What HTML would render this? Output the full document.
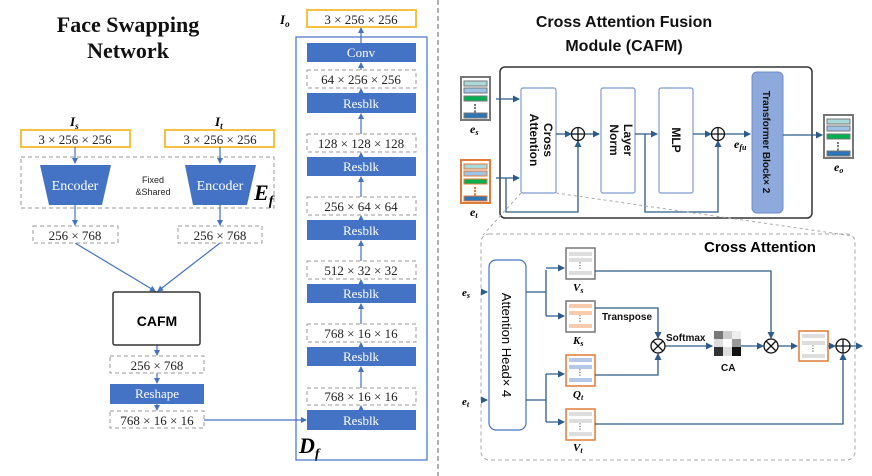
<!DOCTYPE html>
<html><head><meta charset="utf-8"><style>
html,body{margin:0;padding:0;background:#fff}
svg{display:block}
.ser{font-family:"Liberation Serif",serif}
.san{font-family:"Liberation Sans","DejaVu Sans",sans-serif}
</style></head><body>
<svg width="872" height="476" viewBox="0 0 872 476" xmlns="http://www.w3.org/2000/svg">
<defs>
<marker id="a" markerWidth="6" markerHeight="6" refX="5" refY="3" orient="auto" markerUnits="userSpaceOnUse"><path d="M0,0 L6,3 L0,6 z" fill="#4472C4"/></marker>
<marker id="b" markerWidth="7" markerHeight="7" refX="6" refY="3.5" orient="auto" markerUnits="userSpaceOnUse"><path d="M0,0 L7,3.5 L0,7 z" fill="#2E5C8A"/></marker>
<g id="emb"><rect x="0" y="0" width="29" height="43" fill="#fff" stroke-width="2"/><rect x="3" y="4" width="23" height="5" fill="#A8DADC"/><rect x="3" y="11" width="23" height="5" fill="#9DC3E6"/><rect x="3" y="19" width="23" height="5" fill="#00B050"/><text x="14" y="34" font-size="9" text-anchor="middle" class="san">⋮</text><rect x="3" y="36" width="23" height="5" fill="#2E75B6"/></g>
</defs>
<g class="ser" font-weight="bold" font-size="22" text-anchor="middle" fill="#111">
<text x="128" y="32">Face Swapping</text><text x="128" y="58">Network</text></g>
<g class="ser" font-style="italic" font-weight="bold" font-size="13">
<text x="70" y="126">I<tspan font-size="9" dy="3">s</tspan></text>
<text x="215" y="126">I<tspan font-size="9" dy="3">t</tspan></text>
<text x="280" y="24">I<tspan font-size="9" dy="3">o</tspan></text>
<text x="254" y="200" font-size="22">E<tspan font-size="14" dy="5">f</tspan></text>
<text x="299" y="453" font-size="22">D<tspan font-size="14" dy="5">f</tspan></text>
</g>
<g class="ser" font-size="13" text-anchor="middle" fill="#222">
<rect x="21" y="130" width="109" height="17" fill="#fff" stroke="#F5C242" stroke-width="2"/><text x="75" y="144">3 × 256 × 256</text>
<rect x="165" y="130" width="109" height="17" fill="#fff" stroke="#F5C242" stroke-width="2"/><text x="220" y="144">3 × 256 × 256</text>
<rect x="307" y="10" width="109" height="17" fill="#fff" stroke="#F5C242" stroke-width="2"/><text x="361" y="24">3 × 256 × 256</text>
</g>
<rect x="21" y="157" width="253" height="51" fill="none" stroke="#999" stroke-dasharray="4,3"/>
<polygon points="40,165 111,165 102,205 49,205" fill="#4472C4"/>
<polygon points="185,165 256,165 247,205 193,205" fill="#4472C4"/>
<g class="ser" font-size="14" fill="#fff" text-anchor="middle"><text x="75" y="190">Encoder</text><text x="220" y="190">Encoder</text></g>
<g class="san" font-size="9" text-anchor="middle" fill="#222"><text x="153" y="183">Fixed</text><text x="153" y="195">&amp;Shared</text></g>
<g stroke="#4472C4" stroke-width="1.2" fill="none">
<line x1="75" y1="147" x2="75" y2="163" marker-end="url(#a)"/>
<line x1="220" y1="147" x2="220" y2="163" marker-end="url(#a)"/>
<line x1="75" y1="205" x2="75" y2="225" marker-end="url(#a)"/>
<line x1="220" y1="205" x2="220" y2="225" marker-end="url(#a)"/>
<line x1="75" y1="243" x2="155" y2="291" marker-end="url(#a)"/>
<line x1="220" y1="243" x2="158" y2="291" marker-end="url(#a)"/>
<line x1="157" y1="345" x2="157" y2="355" marker-end="url(#a)"/>
<line x1="157" y1="373" x2="157" y2="383" marker-end="url(#a)"/>
<line x1="157" y1="404" x2="157" y2="410" marker-end="url(#a)"/>
<line x1="204" y1="420" x2="306" y2="420" marker-end="url(#a)"/>
<line x1="361" y1="410" x2="361" y2="406" marker-end="url(#a)"/>
<line x1="361" y1="388" x2="361" y2="367" marker-end="url(#a)"/>
<line x1="361" y1="347" x2="361" y2="343" marker-end="url(#a)"/>
<line x1="361" y1="324" x2="361" y2="304" marker-end="url(#a)"/>
<line x1="361" y1="284" x2="361" y2="280" marker-end="url(#a)"/>
<line x1="361" y1="261" x2="361" y2="241" marker-end="url(#a)"/>
<line x1="361" y1="220" x2="361" y2="216" marker-end="url(#a)"/>
<line x1="361" y1="197" x2="361" y2="177" marker-end="url(#a)"/>
<line x1="361" y1="157" x2="361" y2="153" marker-end="url(#a)"/>
<line x1="361" y1="134" x2="361" y2="114" marker-end="url(#a)"/>
<line x1="361" y1="93" x2="361" y2="89" marker-end="url(#a)"/>
<line x1="361" y1="70" x2="361" y2="63" marker-end="url(#a)"/>
<line x1="361" y1="43" x2="361" y2="28" marker-end="url(#a)"/>
</g>
<g class="ser" font-size="13" text-anchor="middle" fill="#222">
<rect x="33" y="226" width="85" height="17" fill="#fff" stroke="#999" stroke-dasharray="4,3"/><text x="75" y="240">256 × 768</text>
<rect x="178" y="226" width="84" height="17" fill="#fff" stroke="#999" stroke-dasharray="4,3"/><text x="220" y="240">256 × 768</text>
<rect x="110" y="356" width="94" height="17" fill="#fff" stroke="#999" stroke-dasharray="4,3"/><text x="157" y="370">256 × 768</text>
<rect x="110" y="411" width="94" height="17" fill="#fff" stroke="#999" stroke-dasharray="4,3"/><text x="157" y="425">768 × 16 × 16</text>
</g>
<rect x="113" y="292" width="87" height="53" rx="2" fill="#fff" stroke="#333" stroke-width="1.5"/>
<text x="157" y="326" class="san" font-weight="bold" font-size="14" text-anchor="middle">CAFM</text>
<rect x="110" y="384" width="94" height="20" fill="#4472C4"/><text x="157" y="398" class="ser" font-size="13" fill="#fff" text-anchor="middle">Reshape</text>
<rect x="296" y="37" width="131" height="423" fill="none" stroke="#4472C4" stroke-width="1.2"/>
<g class="ser" font-size="13" text-anchor="middle">
<rect x="307" y="43" width="109" height="19" fill="#4472C4"/><text x="361" y="57" fill="#fff">Conv</text>
<rect x="307" y="93" width="109" height="20" fill="#4472C4"/><text x="361" y="108" fill="#fff">Resblk</text>
<rect x="307" y="157" width="109" height="19" fill="#4472C4"/><text x="361" y="171" fill="#fff">Resblk</text>
<rect x="307" y="220" width="109" height="20" fill="#4472C4"/><text x="361" y="235" fill="#fff">Resblk</text>
<rect x="307" y="284" width="109" height="19" fill="#4472C4"/><text x="361" y="298" fill="#fff">Resblk</text>
<rect x="307" y="347" width="109" height="19" fill="#4472C4"/><text x="361" y="361" fill="#fff">Resblk</text>
<rect x="307" y="410" width="109" height="20" fill="#4472C4"/><text x="361" y="425" fill="#fff">Resblk</text>
<g fill="#222">
<rect x="307" y="70" width="109" height="18" fill="#fff" stroke="#999" stroke-dasharray="4,3"/><text x="361" y="84">64 × 256 × 256</text>
<rect x="307" y="134" width="109" height="18" fill="#fff" stroke="#999" stroke-dasharray="4,3"/><text x="361" y="148">128 × 128 × 128</text>
<rect x="307" y="197" width="109" height="18" fill="#fff" stroke="#999" stroke-dasharray="4,3"/><text x="361" y="211">256 × 64 × 64</text>
<rect x="307" y="261" width="109" height="18" fill="#fff" stroke="#999" stroke-dasharray="4,3"/><text x="361" y="275">512 × 32 × 32</text>
<rect x="307" y="324" width="109" height="18" fill="#fff" stroke="#999" stroke-dasharray="4,3"/><text x="361" y="338">768 × 16 × 16</text>
<rect x="307" y="388" width="109" height="17" fill="#fff" stroke="#999" stroke-dasharray="4,3"/><text x="361" y="401">768 × 16 × 16</text>
</g></g>
<line x1="438" y1="0" x2="438" y2="476" stroke="#666" stroke-dasharray="5,3"/>
<!-- right -->
<g class="san" font-weight="bold" font-size="16" text-anchor="middle" fill="#111"><text x="624" y="27">Cross Attention Fusion</text><text x="624" y="51">Module (CAFM)</text></g>
<rect x="500" y="67" width="312" height="151" rx="5" fill="#fff" stroke="#333" stroke-width="1.5"/>
<use href="#emb" x="461" y="77" stroke="#777"/>
<use href="#emb" x="461" y="160" stroke="#E07B39"/>
<use href="#emb" x="824" y="115" stroke="#777"/>
<g class="ser" font-style="italic" font-weight="bold" font-size="12">
<text x="470" y="133">e<tspan font-size="8" dy="2">s</tspan></text>
<text x="470" y="216">e<tspan font-size="8" dy="2">t</tspan></text>
<text x="834" y="171">e<tspan font-size="8" dy="2">o</tspan></text>
<text x="734" y="148">e<tspan font-size="8" dy="2">fu</tspan></text>
</g>
<g fill="#fff" stroke="#7F9BD0" stroke-width="1.2">
<rect x="521" y="88" width="35" height="105" rx="2"/><rect x="601" y="88" width="34" height="105" rx="2"/><rect x="659" y="88" width="34" height="105" rx="2"/></g>
<rect x="752" y="72" width="31" height="141" rx="5" fill="#8EA9DB" stroke="#6E8CC8"/>
<g class="san" font-weight="bold" font-size="12" fill="#111" text-anchor="middle">
<text transform="translate(538,140) rotate(90)"><tspan x="0" dy="-6">Cross</tspan><tspan x="0" dy="14">Attention</tspan></text>
<text transform="translate(618,140) rotate(90)"><tspan x="0" dy="-6">Layer</tspan><tspan x="0" dy="14">Norm</tspan></text>
<text transform="translate(676,140) rotate(90)" dy="4">MLP</text>
<text transform="translate(767,142) rotate(90)" dy="4" font-size="10">Transformer Block× 2</text>
</g>
<g stroke="#2E5C8A" stroke-width="1.3" fill="none">
<line x1="496" y1="99" x2="519" y2="99" marker-end="url(#b)"/>
<line x1="496" y1="178" x2="519" y2="178" marker-end="url(#b)"/>
<polyline points="506,178 506,212 578,212 578,141" marker-end="url(#b)"/>
<line x1="556" y1="134" x2="571" y2="134" marker-end="url(#b)"/>
<line x1="584" y1="134" x2="599" y2="134" marker-end="url(#b)"/>
<line x1="635" y1="134" x2="657" y2="134" marker-end="url(#b)"/>
<polyline points="645,134 645,212 718,212 718,141" marker-end="url(#b)"/>
<line x1="693" y1="134" x2="711" y2="134" marker-end="url(#b)"/>
<line x1="724" y1="134" x2="750" y2="134" marker-end="url(#b)"/>
<line x1="783" y1="135" x2="822" y2="135" marker-end="url(#b)"/>
<circle cx="578" cy="134" r="6.5" stroke="#111"/><path d="M571.5,134h13M578,127.5v13" stroke="#111"/>
<circle cx="718" cy="134" r="6.5" stroke="#111"/><path d="M711.5,134h13M718,127.5v13" stroke="#111"/>
</g>
<g stroke="#aaa" stroke-dasharray="3,3" fill="none"><line x1="521" y1="193" x2="483" y2="235"/><line x1="556" y1="193" x2="853" y2="236"/></g>
<rect x="481" y="234" width="374" height="226" rx="8" fill="none" stroke="#aaa" stroke-dasharray="4,3"/>
<text x="760" y="252" class="san" font-weight="bold" font-size="15" text-anchor="middle">Cross Attention</text>
<rect x="489" y="260" width="37" height="170" rx="7" fill="#fff" stroke="#4472C4" stroke-width="1.2"/>
<text transform="translate(507,345) rotate(90)" class="san" font-size="13" text-anchor="middle" dy="5">Attention Head× 4</text>
<g class="ser" font-style="italic" font-weight="bold" font-size="11">
<text x="462" y="296">e<tspan font-size="8" dy="2">s</tspan></text>
<text x="462" y="405">e<tspan font-size="8" dy="2">t</tspan></text>
<text x="573" y="291">V<tspan font-size="8" dy="2">s</tspan></text>
<text x="573" y="344">K<tspan font-size="8" dy="2">s</tspan></text>
<text x="573" y="398">Q<tspan font-size="8" dy="2">t</tspan></text>
<text x="573" y="451">V<tspan font-size="8" dy="2">t</tspan></text>
</g>
<g stroke-width="1.5">
<g><rect x="566" y="248" width="29" height="31" fill="#fff" stroke="#777"/><rect x="569" y="252" width="23" height="4" fill="#ddd"/><rect x="569" y="258" width="23" height="4" fill="#ddd"/><rect x="569" y="271" width="23" height="4" fill="#ddd"/></g>
<g><rect x="566" y="301" width="29" height="31" fill="#fff" stroke="#777"/><rect x="569" y="304" width="23" height="4" fill="#F8CBAD"/><rect x="569" y="311" width="23" height="4" fill="#F8CBAD"/><rect x="569" y="324" width="23" height="4" fill="#F8CBAD"/></g>
<g><rect x="566" y="355" width="29" height="31" fill="#fff" stroke="#E07B39"/><rect x="569" y="358" width="23" height="4" fill="#B4C7E7"/><rect x="569" y="365" width="23" height="4" fill="#B4C7E7"/><rect x="569" y="378" width="23" height="4" fill="#B4C7E7"/></g>
<g><rect x="566" y="409" width="29" height="31" fill="#fff" stroke="#E07B39"/><rect x="569" y="412" width="23" height="4" fill="#ddd"/><rect x="569" y="419" width="23" height="4" fill="#ddd"/><rect x="569" y="432" width="23" height="4" fill="#ddd"/></g>
<g><rect x="799" y="331" width="29" height="30" fill="#fff" stroke="#E07B39"/><rect x="802" y="334" width="23" height="4" fill="#ddd"/><rect x="802" y="341" width="23" height="4" fill="#ddd"/><rect x="802" y="354" width="23" height="4" fill="#ddd"/></g>
</g>
<g class="san" font-size="8" text-anchor="middle"><text x="580" y="268">⋮</text><text x="580" y="321">⋮</text><text x="580" y="375">⋮</text><text x="580" y="429">⋮</text><text x="813" y="351">⋮</text></g>
<g>
<rect x="714" y="331" width="9" height="8" fill="#777"/><rect x="723" y="331" width="9" height="8" fill="#ccc"/><rect x="732" y="331" width="9" height="8" fill="#eee"/>
<rect x="714" y="339" width="9" height="8" fill="#ddd"/><rect x="723" y="339" width="9" height="8" fill="#fff"/><rect x="732" y="339" width="9" height="8" fill="#999"/>
<rect x="714" y="347" width="9" height="9" fill="#333"/><rect x="723" y="347" width="9" height="9" fill="#ddd"/><rect x="732" y="347" width="9" height="9" fill="#111"/>
</g>
<g class="san" font-weight="bold" font-size="10" fill="#111"><text x="602" y="320">Transpose</text><text x="666" y="341">Softmax</text><text x="721" y="371">CA</text></g>
<g stroke="#2E5C8A" stroke-width="1.3" fill="none">
<line x1="481" y1="292" x2="487" y2="292" marker-end="url(#b)"/>
<line x1="481" y1="400" x2="487" y2="400" marker-end="url(#b)"/>
<polyline points="526,292 546,292"/>
<polyline points="546,270 546,316"/>
<line x1="546" y1="268" x2="564" y2="268" marker-end="url(#b)"/>
<line x1="546" y1="316" x2="564" y2="316" marker-end="url(#b)"/>
<polyline points="526,400 546,400"/>
<polyline points="546,374 546,422"/>
<line x1="546" y1="374" x2="564" y2="374" marker-end="url(#b)"/>
<line x1="546" y1="422" x2="564" y2="422" marker-end="url(#b)"/>
<polyline points="595,271 771,271 771,338" marker-end="url(#b)"/>
<polyline points="595,308 658,308 658,338" marker-end="url(#b)"/>
<polyline points="595,375 658,375 658,354" marker-end="url(#b)"/>
<line x1="665" y1="346" x2="712" y2="346" marker-end="url(#b)"/>
<line x1="741" y1="346" x2="763" y2="346" marker-end="url(#b)"/>
<line x1="778" y1="346" x2="797" y2="346" marker-end="url(#b)"/>
<line x1="828" y1="346" x2="835" y2="346" marker-end="url(#b)"/>
<polyline points="595,424 843,424 843,354" marker-end="url(#b)"/>
<line x1="850" y1="346" x2="862" y2="346" marker-end="url(#b)"/>
</g>
<g stroke="#111" stroke-width="1.3" fill="#fff">
<circle cx="658" cy="346" r="7"/><path d="M653,341l10,10M663,341l-10,10"/>
<circle cx="771" cy="346" r="7"/><path d="M766,341l10,10M776,341l-10,10"/>
<circle cx="843" cy="346" r="7"/><path d="M836,346h14M843,339v14"/>
</g>
</svg>
</body></html>
